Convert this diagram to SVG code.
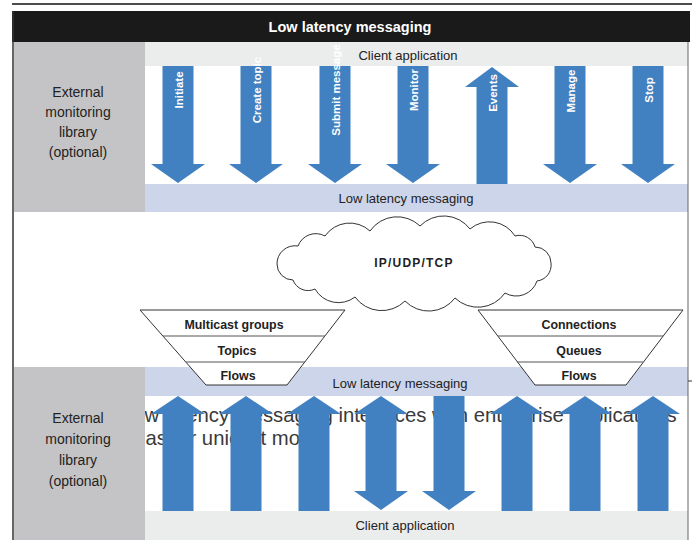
<svg xmlns="http://www.w3.org/2000/svg" width="692" height="540" viewBox="0 0 692 540">
<style>
.lbl{font-family:"Liberation Sans",Arial,sans-serif;fill:#222;font-size:13px;text-anchor:middle}
.side{font-family:"Liberation Sans",Arial,sans-serif;fill:#222;font-size:14px;text-anchor:middle}
.arr{fill:#4281c1}
.alab{font-family:"Liberation Sans",Arial,sans-serif;fill:#fff;font-size:11.5px;font-weight:bold;text-anchor:middle}
.fun{fill:#fff;stroke:#333;stroke-width:1}
.div{stroke:#555;stroke-width:1}
.ftx{font-family:"Liberation Sans",Arial,sans-serif;fill:#222;font-size:12.4px;font-weight:bold;text-anchor:middle}
.gray{fill:#c4c4c6}
.client{fill:#ebecec}
.band{fill:#cdd5ea}
</style>
<rect width="692" height="540" fill="#fff"/>
<line x1="12" y1="4" x2="692" y2="4" stroke="#111" stroke-width="1.5"/>

<g id="header">
<rect x="12" y="11" width="678" height="31" fill="#1a1a1a"/>
<text x="350" y="32" font-family="Liberation Sans, Arial, sans-serif" font-size="14.5" font-weight="bold" fill="#fff" text-anchor="middle">Low latency messaging</text>
</g>

<g id="monitor-top">
<rect class="gray" x="14" y="42" width="131" height="170"/>
<text class="side" x="78" y="97">External</text>
<text class="side" x="78" y="117">monitoring</text>
<text class="side" x="78" y="137">library</text>
<text class="side" x="78" y="157">(optional)</text>
</g>
<g id="client-top">
<rect class="client" x="145" y="42" width="543" height="24"/>
<text class="lbl" x="408" y="60">Client  application</text>
</g>
<g id="llm-top">
<rect class="band" x="145" y="184" width="543" height="28"/>
<text class="lbl" x="406" y="203">Low latency messaging</text>
</g>

<g id="overlay-text" font-family="Liberation Sans, Arial, sans-serif" font-size="20.3" fill="#3a3a3a">
<text x="122" y="422">Low latency messaging interfaces with enterprise applications</text>
<text x="145.5" y="445">ast or unicast mode</text>
</g>

<g id="monitor-bottom">
<rect class="gray" x="14" y="367" width="131" height="173"/>
<text class="side" x="78" y="423">External</text>
<text class="side" x="78" y="444">monitoring</text>
<text class="side" x="78" y="465">library</text>
<text class="side" x="78" y="486">(optional)</text>
</g>
<g id="llm-bottom">
<rect class="band" x="145" y="367" width="543" height="29"/>
<text class="lbl" x="400" y="388">Low latency messaging</text>
</g>
<g id="client-bottom">
<rect class="client" x="145" y="511" width="543" height="29"/>
<text class="lbl" x="405" y="530">Client  application</text>
</g>

<g id="cloud">
<path d="M277,264 A18,18 0 0 1 298,246 A19,19 0 0 1 325,236 A30,30 0 0 1 370,231 A33,33 0 0 1 420,226 A33,33 0 0 1 470,229 A30,30 0 0 1 515,236 A16,16 0 0 1 535,247 A16,16 0 0 1 551,263 A16,16 0 0 1 537,281 A22,22 0 0 1 505,293 A33,33 0 0 1 455,298 A33,33 0 0 1 405,301 A33,33 0 0 1 355,297 A27,27 0 0 1 315,289 A16,16 0 0 1 293,280 A16,16 0 0 1 277,264 Z" fill="#fff" stroke="#333" stroke-width="1"/>
<text x="414" y="267" font-family="Liberation Sans, Arial, sans-serif" font-size="12" font-weight="bold" fill="#222" text-anchor="middle" letter-spacing="1.2">IP/UDP/TCP</text>
</g>

<g id="funnel-left">
<polygon class="fun" points="140,310 345,310 287,385 206,385"/>
<line class="div" x1="163" y1="336" x2="325" y2="336"/>
<line class="div" x1="186" y1="362" x2="305" y2="362"/>
<text class="ftx" x="234" y="329">Multicast groups</text>
<text class="ftx" x="237" y="355">Topics</text>
<text class="ftx" x="238" y="380">Flows</text>
</g>
<g id="funnel-right">
<polygon class="fun" points="478,310 683,310 626,385 535,385"/>
<line class="div" x1="498" y1="336" x2="663" y2="336"/>
<line class="div" x1="517" y1="362" x2="643" y2="362"/>
<text class="ftx" x="579" y="329">Connections</text>
<text class="ftx" x="579" y="355">Queues</text>
<text class="ftx" x="579" y="380">Flows</text>
</g>

<g id="connectors">
<g id="arrows-top">
<polygon class="arr" points="162.5,66 193.5,66 193.5,164 205,164 178,183 151,164 162.5,164"/>
<polygon class="arr" points="240.5,66 271.5,66 271.5,164 283,164 256,183 229,164 240.5,164"/>
<polygon class="arr" points="319.5,66 350.5,66 350.5,164 362,164 335,183 308,164 319.5,164"/>
<polygon class="arr" points="397.5,66 428.5,66 428.5,164 440,164 413,183 386,164 397.5,164"/>
<polygon class="arr" points="492,67 519,87 507.5,87 507.5,184 476.5,184 476.5,87 465,87"/>
<polygon class="arr" points="554.5,66 585.5,66 585.5,164 597,164 570,183 543,164 554.5,164"/>
<polygon class="arr" points="632.5,66 663.5,66 663.5,164 675,164 648,183 621,164 632.5,164"/>
<text class="alab" transform="translate(183,90) rotate(-90)">Initiate</text>
<text class="alab" transform="translate(261,90) rotate(-90)">Create topic</text>
<text class="alab" transform="translate(340,90) rotate(-90)">Submit message</text>
<text class="alab" transform="translate(418,90) rotate(-90)">Monitor</text>
<text class="alab" transform="translate(497,93) rotate(-90)">Events</text>
<text class="alab" transform="translate(575,91) rotate(-90)">Manage</text>
<text class="alab" transform="translate(653,90) rotate(-90)">Stop</text>
</g>
<g id="arrows-bottom">
<polygon class="arr" points="178,396 205,414 193.5,414 193.5,511 162.5,511 162.5,414 151,414"/>
<polygon class="arr" points="246,396 273,414 261.5,414 261.5,511 230.5,511 230.5,414 219,414"/>
<polygon class="arr" points="314,396 341,414 329.5,414 329.5,511 298.5,511 298.5,414 287,414"/>
<polygon class="arr" points="381,396 408,414 396.5,414 396.5,491 408,491 381,510 354,491 365.5,491 365.5,414 354,414"/>
<polygon class="arr" points="433.5,396 464.5,396 464.5,491 476,491 449,510 422,491 433.5,491"/>
<polygon class="arr" points="517,396 544,414 532.5,414 532.5,511 501.5,511 501.5,414 490,414"/>
<polygon class="arr" points="585,396 612,414 600.5,414 600.5,511 569.5,511 569.5,414 558,414"/>
<polygon class="arr" points="653,396 680,414 668.5,414 668.5,511 637.5,511 637.5,414 626,414"/>
</g>
</g>

<g id="frame">
<line x1="13" y1="11" x2="13" y2="540" stroke="#333" stroke-width="1.5"/>
<line x1="688" y1="42" x2="688" y2="540" stroke="#666" stroke-width="1"/>
<line x1="688" y1="381" x2="692" y2="381" stroke="#333" stroke-width="1"/>
</g>
</svg>
